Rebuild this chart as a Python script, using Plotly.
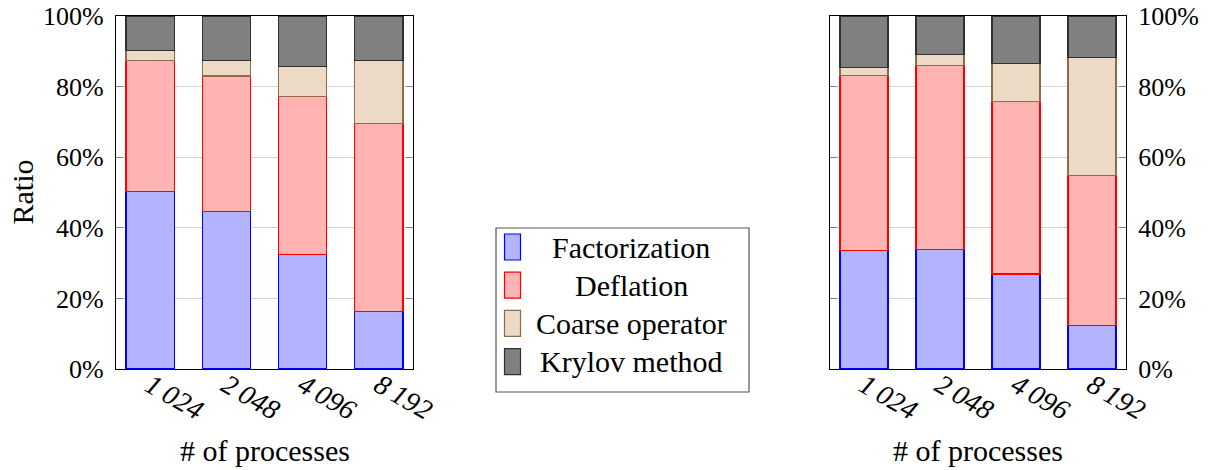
import plotly.graph_objects as go

# ─── Data (percent of total time) ────────────────────────────────────────────

PROCS = ["1\u2009024", "2\u2009048", "4\u2009096", "8\u2009192"]
SERIES = ["Factorization", "Deflation", "Coarse operator", "Krylov method"]

LEFT_FACT = [50.2, 44.7, 32.5, 16.3]
LEFT_DEFL = [37.3, 38.3, 44.8, 53.3]
LEFT_COARSE = [2.8, 4.4, 8.4, 17.9]
LEFT_KRYLOV = [9.7, 12.6, 14.3, 12.5]

RIGHT_FACT = [33.6, 33.8, 26.9, 12.3]
RIGHT_DEFL = [49.6, 52.1, 48.8, 42.6]
RIGHT_COARSE = [2.1, 3.1, 10.9, 33.3]
RIGHT_KRYLOV = [14.7, 11.0, 13.4, 11.8]

Y_TICKS = [0, 20, 40, 60, 80, 100]
Y_TICKTEXT = ["0%", "20%", "40%", "60%", "80%", "100%"]

# ─── Style ───────────────────────────────────────────────────────────────────

W, H = 1211, 470
FONT = "Liberation Serif"
FILLS = ["#b3b3ff", "#ffb3b3", "#ecd9c6", "#808080"]
LINES = ["#0000ff", "#ff0000", "#8f6c48", "#303030"]


def px_x(x):
    return x / W


def px_y(y):
    return 1 - y / H


def label(text, x, y, size=30, angle=0):
    fig.add_annotation(text=text, x=px_x(x), y=px_y(y), xref="paper", yref="paper",
                       xanchor="center", yanchor="middle", textangle=angle,
                       showarrow=False, font=dict(family=FONT, size=size, color="black"))


fig = go.Figure()

for xa, ya, cols in [
    ("x", "y", [LEFT_FACT, LEFT_DEFL, LEFT_COARSE, LEFT_KRYLOV]),
    ("x2", "y2", [RIGHT_FACT, RIGHT_DEFL, RIGHT_COARSE, RIGHT_KRYLOV]),
]:
    for i, vals in enumerate(cols):
        fig.add_trace(go.Bar(
            x=PROCS, y=vals, name=SERIES[i],
            xaxis=xa, yaxis=ya,
            marker=dict(color=FILLS[i], line=dict(color=LINES[i], width=1.2)),
            showlegend=False,
        ))

xcommon = dict(
    type="category", range=[-0.447, 3.447], showgrid=False,
    showline=True, linecolor="black", linewidth=1.2, mirror=True,
    ticks="", tickangle=30, automargin=False, ticklabelstandoff=-12,
    tickfont=dict(family=FONT, size=28, color="black", style="italic"),
)
ycommon = dict(
    range=[0, 100], tickvals=Y_TICKS, ticktext=Y_TICKTEXT,
    showgrid=True, gridcolor="#d4d4d4", gridwidth=1,
    showline=True, linecolor="black", linewidth=1.2, mirror="ticks",
    ticks="inside", ticklen=7, tickcolor="#808080", tickwidth=1.2,
    zeroline=False, automargin=False, ticklabelstandoff=6,
    tickfont=dict(family=FONT, size=26, color="black"),
)

ydom = [px_y(369), px_y(16)]
fig.update_layout(
    width=W, height=H,
    margin=dict(l=0, r=0, t=0, b=0),
    paper_bgcolor="white", plot_bgcolor="white",
    barmode="stack", bargap=0.37,
    xaxis=dict(domain=[px_x(116), px_x(413)], anchor="y", **xcommon),
    yaxis=dict(domain=ydom, anchor="x", side="left", **ycommon),
    xaxis2=dict(domain=[px_x(830), px_x(1126)], anchor="y2", **xcommon),
    yaxis2=dict(domain=ydom, anchor="x2", side="right", **ycommon),
)

# axis titles
label("# of processes", 264.5, 450)
label("# of processes", 978, 450)
label("Ratio", 22, 192.5, angle=-90)

# legend box, drawn by hand so the labels are centred like the original
fig.add_shape(type="rect", xref="paper", yref="paper",
              x0=px_x(496), x1=px_x(749), y0=px_y(392), y1=px_y(228),
              line=dict(color="#555555", width=1.2), fillcolor="white")
for i, name in enumerate(SERIES):
    yc = 247 + i * 38.2
    fig.add_shape(type="rect", xref="paper", yref="paper",
                  x0=px_x(504.5), x1=px_x(520.5), y0=px_y(yc + 13), y1=px_y(yc - 13),
                  line=dict(color=LINES[i], width=1.2), fillcolor=FILLS[i])
    label(name, 631, yc)

fig.write_html("out.html", config={"displayModeBar": False},
               post_script="document.body.style.margin='0';")
